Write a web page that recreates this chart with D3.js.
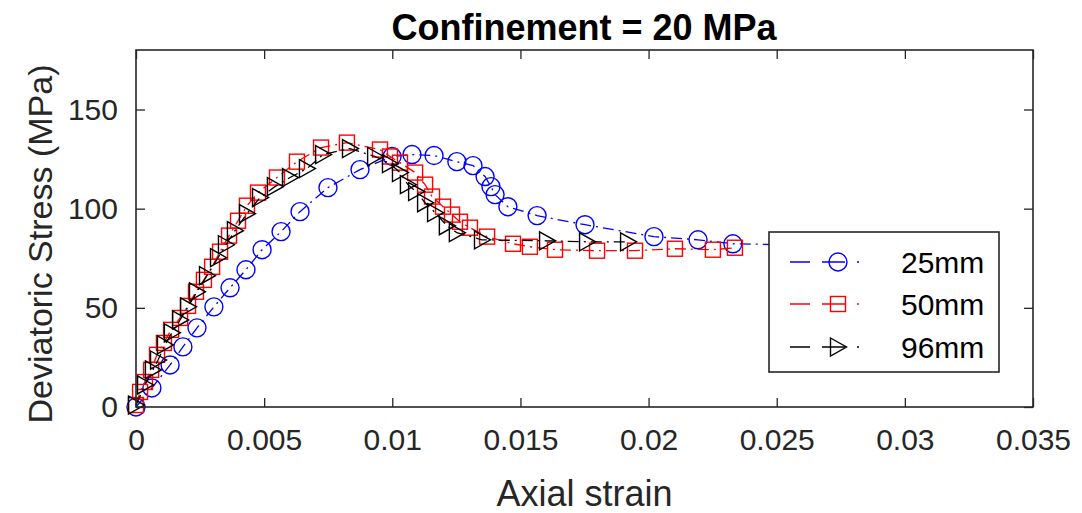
<!DOCTYPE html>
<html><head><meta charset="utf-8">
<script src="https://cdn.jsdelivr.net/npm/d3@7/dist/d3.min.js"></script>
<style>body{margin:0;background:#fff;} svg{display:block;font-family:"Liberation Sans",Arial,sans-serif;}</style>
</head><body>
<svg id="c" width="1082" height="513"></svg>
<script>
const title = "Confinement = 20 MPa";
const xLabel = "Axial strain";
const yLabel = "Deviatoric Stress (MPa)";
const xTicks = [0, 0.005, 0.01, 0.015, 0.02, 0.025, 0.03, 0.035];
const xTickLabels = ["0", "0.005", "0.01", "0.015", "0.02", "0.025", "0.03", "0.035"];
const yTicks = [0, 50, 100, 150];
const seriesNames = ["25mm", "50mm", "96mm"];

const strain25 = [0, 0.00062, 0.00133, 0.00183, 0.00238, 0.00304, 0.00367, 0.00429, 0.00492, 0.00566, 0.0064, 0.00749, 0.00874, 0.00999, 0.01077, 0.01163, 0.01252, 0.01315, 0.01362, 0.01385, 0.01401, 0.01451, 0.01565, 0.01752, 0.02021, 0.02193, 0.02329, 0.0255];
const stress25 = [0, 9.6, 21.2, 30.3, 39.9, 50.5, 60.1, 69.2, 79.3, 88.4, 98.5, 110.6, 119.7, 126.3, 127.3, 126.8, 123.7, 121.7, 116.2, 111.1, 107.1, 101.0, 96.5, 91.9, 85.9, 84.3, 82.3, 81.8];

const strain50 = [0, 0.00016, 0.00035, 0.00059, 0.00082, 0.00109, 0.00137, 0.00172, 0.00203, 0.00234, 0.00265, 0.00297, 0.00328, 0.00363, 0.00398, 0.00433, 0.00476, 0.0055, 0.00628, 0.00722, 0.00823, 0.00952, 0.00991, 0.0103, 0.01089, 0.01128, 0.01155, 0.01198, 0.01233, 0.01264, 0.01303, 0.0137, 0.01471, 0.01537, 0.01635, 0.01799, 0.01947, 0.02103, 0.02251, 0.02337];
const stress50 = [1, 7.6, 12.6, 18.7, 26.3, 32.3, 38.9, 44.9, 51.0, 58.1, 64.1, 70.7, 78.3, 86.4, 93.9, 101.5, 108.1, 115.7, 123.7, 130.8, 133.3, 129.8, 126.3, 123.2, 118.2, 112.1, 106.1, 101.0, 97.0, 93.4, 90.4, 85.9, 82.3, 80.8, 79.3, 78.8, 78.8, 79.8, 79.3, 80.3];

const strain96 = [0, 0.00035, 0.00066, 0.00086, 0.00113, 0.0014, 0.00172, 0.00203, 0.00238, 0.00277, 0.0032, 0.00351, 0.00386, 0.00433, 0.00484, 0.00542, 0.00601, 0.00667, 0.0073, 0.00835, 0.00933, 0.00991, 0.0103, 0.01061, 0.01093, 0.01128, 0.01167, 0.01213, 0.01252, 0.0135, 0.01604, 0.0176, 0.0192];
const stress96 = [1, 11.1, 18.7, 23.7, 31.3, 37.4, 43.9, 50.5, 58.1, 66.2, 75.3, 81.8, 88.9, 97.5, 105.6, 111.1, 115.7, 120.2, 127.3, 130.3, 126.3, 122.7, 118.2, 112.1, 108.6, 103.0, 98.0, 91.4, 87.9, 84.3, 83.8, 83.3, 83.3];

const colors = ["#0000ff", "#ff0000", "#000000"];
const markers = ["circle", "square", "triangle"];

const W = 1082, H = 513;
const m = {left: 136, right: 1082 - 1033, top: 50, bottom: 513 - 407};
const svg = d3.select("#c");
const x = d3.scaleLinear().domain([0, 0.035]).range([m.left, W - m.right]);
const y = d3.scaleLinear().domain([0, 180]).range([H - m.bottom, m.top]);

const series = [
  {name: seriesNames[0], xs: strain25, ys: stress25},
  {name: seriesNames[1], xs: strain50, ys: stress50},
  {name: seriesNames[2], xs: strain96, ys: stress96}
];

const dash = "11,5,2,5";
const line = d3.line().x(d => d[0]).y(d => d[1]);

function drawMarker(g, type, cx, cy, color) {
  if (type === "circle") {
    g.append("circle").attr("cx", cx).attr("cy", cy).attr("r", 9)
      .attr("fill", "none").attr("stroke", color).attr("stroke-width", 1.4);
  } else if (type === "square") {
    g.append("rect").attr("x", cx - 7.5).attr("y", cy - 7.5).attr("width", 15).attr("height", 15)
      .attr("fill", "none").attr("stroke", color).attr("stroke-width", 1.4);
  } else {
    g.append("path").attr("d", `M${cx - 7.5},${cy - 9}L${cx + 8.5},${cy}L${cx - 7.5},${cy + 9}Z`)
      .attr("fill", "none").attr("stroke", color).attr("stroke-width", 1.4);
  }
}

const plotG = svg.append("g");
series.forEach((s, i) => {
  const pts = s.xs.map((v, k) => [x(v), y(s.ys[k])]);
  const g = plotG.append("g");
  g.append("path").attr("d", line(pts)).attr("fill", "none")
    .attr("stroke", colors[i]).attr("stroke-width", 1.3).attr("stroke-dasharray", dash);
  pts.forEach(p => drawMarker(g, markers[i], p[0], p[1], colors[i]));
});

// axes box
const axisColor = "#262626";
const x0 = x.range()[0], x1 = x.range()[1], y0 = y.range()[0], y1 = y.range()[1];
svg.append("rect").attr("x", x0).attr("y", y1).attr("width", x1 - x0).attr("height", y0 - y1)
  .attr("fill", "none").attr("stroke", axisColor).attr("stroke-width", 1.6);

const xAxis = d3.axisBottom(x).tickValues(xTicks).tickFormat((d, i) => xTickLabels[i]).tickSizeInner(-9).tickSizeOuter(0).tickPadding(22);
const gx = svg.append("g").attr("transform", `translate(0,${y0})`).call(xAxis);
const xTop = d3.axisTop(x).tickValues(xTicks).tickFormat("").tickSizeInner(-9).tickSizeOuter(0);
const gxt = svg.append("g").attr("transform", `translate(0,${y1})`).call(xTop);
const yAxis = d3.axisLeft(y).tickValues(yTicks).tickSizeInner(-9).tickSizeOuter(0).tickPadding(18);
const gy = svg.append("g").attr("transform", `translate(${x0},0)`).call(yAxis);
const yRight = d3.axisRight(y).tickValues(yTicks).tickFormat("").tickSizeInner(-9).tickSizeOuter(0);
const gyr = svg.append("g").attr("transform", `translate(${x1},0)`).call(yRight);
[gx, gxt, gy, gyr].forEach(g => {
  g.select(".domain").remove();
  g.selectAll(".tick line").attr("stroke", axisColor).attr("stroke-width", 1.3);
  g.selectAll(".tick text").attr("fill", axisColor).attr("font-size", 30).attr("font-family", "Liberation Sans, Arial, sans-serif");
});
gx.selectAll(".tick text").attr("dy", "0.71em");

// labels
svg.append("text").attr("x", (x0 + x1) / 2).attr("y", 506).attr("text-anchor", "middle")
  .attr("font-size", 36).attr("fill", axisColor).text(xLabel);
svg.append("text").attr("transform", `translate(52,244) rotate(-90)`).attr("text-anchor", "middle")
  .attr("font-size", 34).attr("fill", axisColor).text(yLabel);
svg.append("text").attr("x", 584).attr("y", 40).attr("text-anchor", "middle")
  .attr("font-size", 36).attr("font-weight", "bold").attr("fill", "#000").text(title);

// legend
const lg = svg.append("g");
lg.append("rect").attr("x", 769).attr("y", 232).attr("width", 230).attr("height", 140)
  .attr("fill", "#fff").attr("stroke", axisColor).attr("stroke-width", 1.6);
const rowY = [262, 304, 347];
series.forEach((s, i) => {
  const ly = rowY[i];
  lg.append("path").attr("d", `M790,${ly}L875,${ly}`).attr("stroke", colors[i]).attr("stroke-width", 1.3)
    .attr("fill", "none").attr("stroke-dasharray", "20,12,23,12,2,20");
  drawMarker(lg, markers[i], 838, ly, colors[i]);
  lg.append("text").attr("x", 901).attr("y", ly + 11).attr("font-size", 30).attr("fill", "#000").text(s.name);
});
</script>
</body></html>
